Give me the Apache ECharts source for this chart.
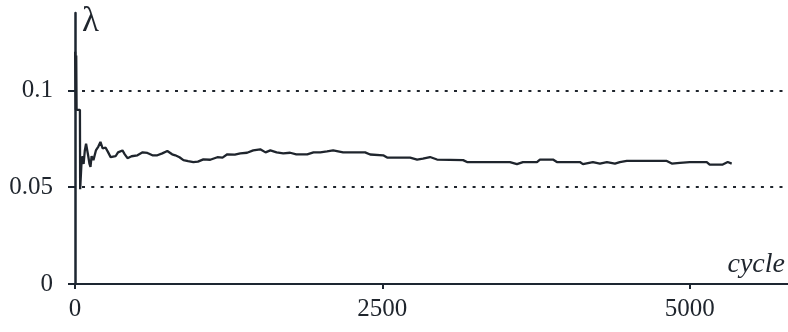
<!DOCTYPE html>
<html>
<head>
<meta charset="utf-8">
<script src="https://cdn.jsdelivr.net/npm/echarts@6/dist/echarts.min.js"></script>
<style>
  html, body { margin: 0; padding: 0; background: #ffffff; }
  #chart { width: 788px; height: 332px; }
</style>
</head>
<body>
<div id="chart"></div>
<script>
// Learning-rate trace λ over training cycles
const cycles = [
  1, 5, 7, 10, 13, 40, 42, 50, 54, 62, 70, 80, 90, 99, 108, 118, 126, 135, 150,
  170, 190, 207, 225, 248, 270, 290, 305, 330, 350, 386, 405, 427, 460, 508,
  550, 589, 630, 670, 710, 751, 790, 816, 850, 882, 920, 963, 1000, 1044, 1100,
  1158, 1200, 1239, 1300, 1345, 1400, 1450, 1507, 1550, 1589, 1640, 1694, 1750,
  1800, 1889, 1940, 1995, 2050, 2100, 2181, 2250, 2360, 2401, 2507, 2539, 2726,
  2783, 2830, 2888, 2945, 3157, 3189, 3538, 3595, 3644, 3758, 3782, 3888, 3920,
  4107, 4132, 4213, 4270, 4327, 4392, 4432, 4489, 4814, 4855, 4920, 5001, 5139,
  5163, 5269, 5310, 5342
];
const lambda = [
  0.120, 0.119, 0.090, 0.118, 0.090, 0.090, 0.049, 0.049, 0.064, 0.066, 0.062,
  0.069, 0.0725, 0.0734, 0.066, 0.062, 0.0605, 0.066, 0.064, 0.069, 0.071,
  0.0734, 0.070, 0.0705, 0.068, 0.0655, 0.0665, 0.066, 0.068, 0.069, 0.067,
  0.065, 0.066, 0.0665, 0.068, 0.0677, 0.0665, 0.0665, 0.0675, 0.0687, 0.067,
  0.0665, 0.0655, 0.064, 0.0635, 0.063, 0.0632, 0.0644, 0.0642, 0.0655, 0.0653,
  0.067, 0.0668, 0.0675, 0.0678, 0.069, 0.0696, 0.068, 0.069, 0.068, 0.0675,
  0.0678, 0.067, 0.067, 0.068, 0.068, 0.0685, 0.069, 0.068, 0.068, 0.068,
  0.0669, 0.0665, 0.0653, 0.0653, 0.0643, 0.0648, 0.0656, 0.0643, 0.064, 0.063,
  0.063, 0.0619, 0.063, 0.063, 0.0643, 0.0643, 0.063, 0.063, 0.0619, 0.063,
  0.0622, 0.063, 0.0622, 0.063, 0.0636, 0.0636, 0.0622, 0.0626, 0.063, 0.063,
  0.0617, 0.0617, 0.063, 0.0622
];
const xTicks = [0, 2500, 5000];
const yTicks = [0, 0.05, 0.1];
const referenceLevels = [0.1, 0.05];

const ink = '#1f252d';
const axisInk = '#1d2631';
const font = 'Liberation Serif';

const chart = echarts.init(document.getElementById('chart'), null, { renderer: 'canvas' });

chart.setOption({
  animation: false,
  backgroundColor: '#ffffff',
  grid: { left: 75, right: 0, top: 13, bottom: 48, containLabel: false, outerBoundsMode: 'none' },
  xAxis: {
    type: 'value',
    min: 0,
    max: 5800,
    interval: 2500,
    name: 'cycle',
    nameLocation: 'end',
    nameGap: -3,
    nameTextStyle: {
      fontFamily: font, fontStyle: 'italic', fontSize: 28, color: ink,
      align: 'right', verticalAlign: 'bottom', padding: [0, 0, 5, 0]
    },
    axisLine: { show: true, onZero: false, lineStyle: { color: axisInk, width: 2 } },
    axisTick: { show: true, inside: false, length: 5, customValues: xTicks, lineStyle: { color: axisInk, width: 2 } },
    axisLabel: {
      customValues: xTicks, fontFamily: font, fontSize: 25, color: ink, margin: 13,
      formatter: v => String(v)
    },
    splitLine: { show: false }
  },
  yAxis: {
    type: 'value',
    min: 0,
    max: 0.14,
    interval: 0.05,
    name: 'λ',
    nameLocation: 'end',
    nameGap: -9,
    nameTextStyle: {
      fontFamily: font, fontSize: 35, color: ink,
      align: 'left', verticalAlign: 'middle', padding: [0, 0, 0, 7]
    },
    axisLine: { show: true, onZero: false, lineStyle: { color: axisInk, width: 2.5 } },
    axisTick: { show: true, inside: false, length: 7, customValues: yTicks, lineStyle: { color: axisInk, width: 2 } },
    axisLabel: {
      customValues: yTicks, fontFamily: font, fontSize: 25, color: ink, margin: 22,
      formatter: v => String(v)
    },
    splitLine: { show: false }
  },
  series: [{
    type: 'line',
    data: cycles.map((c, i) => [c, lambda[i]]),
    showSymbol: false,
    symbol: 'none',
    lineStyle: { color: ink, width: 2.3 },
    z: 3,
    markLine: {
      silent: true,
      symbol: 'none',
      label: { show: false },
      lineStyle: { color: ink, width: 2, type: [3, 6.3], dashOffset: -7 },
      data: referenceLevels.map(v => ({ yAxis: v }))
    }
  }]
});
</script>
</body>
</html>
